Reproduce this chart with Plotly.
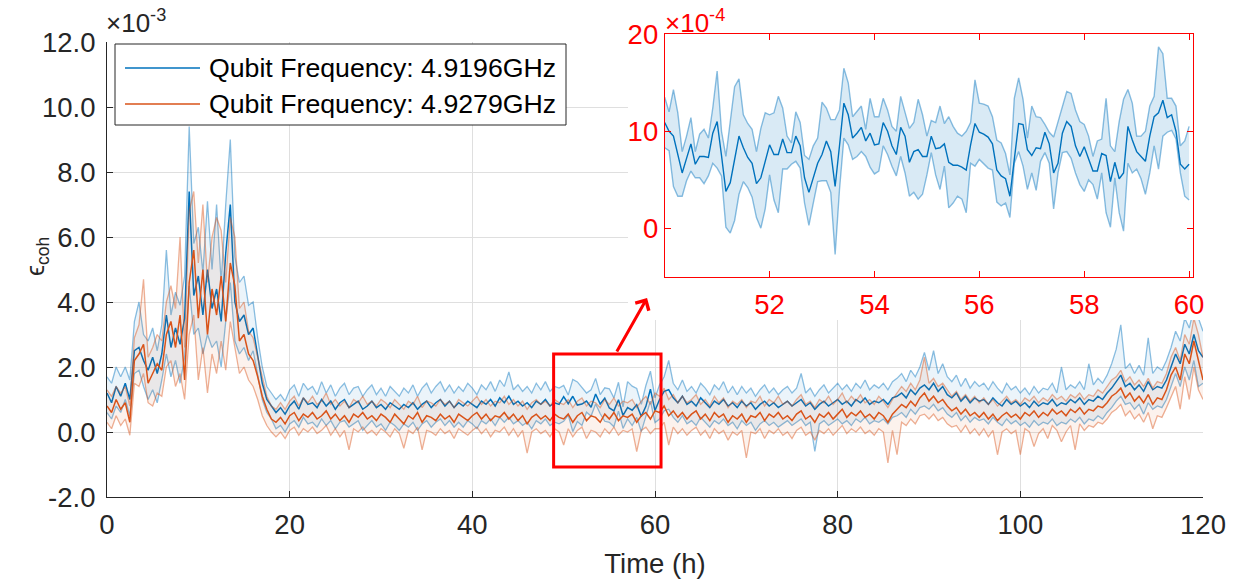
import plotly.graph_objects as go

# ---------------- data (values in units of 1e-3, main axes) ----------------
TIME_STEP_H = 0.5

BLUE_MEAN = [
    1.2, 0.9, 1.4, 1.1, 1.5, 1.0, 2.5, 2.6, 2.2, 1.9,
    2.3, 1.8, 2.4, 3.6, 2.6, 3.2, 2.7, 3.5, 7.4, 4.2,
    4.8, 3.6, 5.0, 3.8, 4.4, 3.4, 5.5, 7.0, 4.0, 3.4,
    3.6, 3.0, 3.2, 2.3, 1.5, 1.0, 0.8,
    0.6, 0.75, 0.55, 0.8, 0.95, 0.7, 1.05, 0.85, 0.9, 0.75,
    1.0, 0.8, 0.95, 0.7, 0.9, 1.0, 0.75, 0.85, 0.95, 0.7,
    0.8, 0.95, 0.75, 0.85, 0.7, 0.9, 0.8, 0.7, 0.85, 0.75,
    0.9, 0.7, 0.85, 0.95, 0.75, 0.9, 1.0, 0.8, 0.95, 0.75,
    0.9, 0.8, 0.95, 0.85, 0.75, 0.95, 0.85, 1.0, 0.8, 1.05,
    0.9, 1.1, 0.85, 0.95, 0.8, 0.9, 0.75, 0.95, 0.85, 1.0,
    0.8, 0.9, 0.85,
    1.09, 0.87, 1.10, 0.83, 0.86, 0.95, 0.76, 1.17, 0.86, 1.04,
    0.74, 0.65, 0.99, 0.51, 0.75, 0.67, 0.84, 0.48, 0.79, 1.32, 0.66,
    1.0, 1.25, 1.3, 1.05, 0.9, 1.1, 0.85, 0.95, 0.8, 1.05,
    0.9, 0.75, 0.95, 0.85, 1.0, 0.8, 0.9, 0.75, 0.95, 0.8,
    0.9, 0.7, 0.85, 0.95, 0.8, 0.9, 0.75, 0.85, 0.95, 0.8,
    0.9, 1.0, 0.8, 0.9, 0.7, 0.85, 0.95, 0.8, 0.9, 1.0,
    0.85, 0.95, 0.8, 1.0, 0.9, 1.05, 0.85, 0.95, 0.9, 1.0,
    0.85, 1.05, 1.1, 1.2, 1.05, 1.3, 1.15, 1.35, 1.45, 1.3,
    1.5, 1.25, 1.4, 1.15, 1.05, 1.2, 0.95, 1.1, 0.9, 1.05,
    0.95, 1.0, 0.85, 1.05, 0.9, 0.8, 1.0, 0.85, 0.95, 0.8,
    0.9, 0.75, 0.95, 0.8, 0.9, 0.85, 1.0, 0.8, 0.9, 0.85,
    1.0, 0.9, 1.05, 0.85, 1.0, 0.95, 1.1, 1.0, 1.2, 1.35,
    1.55, 1.75, 1.4, 1.5, 1.3, 1.45, 1.25, 1.55, 1.3, 1.4,
    1.35, 1.6, 2.0, 2.4, 2.1, 2.7, 2.4, 3.0, 2.5, 2.3,
]
BLUE_UPPER = [
    1.7, 1.5, 2.0, 1.7, 2.0, 1.6, 3.4, 4.0, 3.0, 2.8,
    3.2, 2.5, 3.3, 5.6, 3.6, 4.3, 3.9, 4.8, 9.4, 5.8,
    6.3, 4.9, 7.1, 5.0, 7.0, 4.6, 7.0, 9.0, 5.4, 4.6,
    4.8, 3.9, 4.0, 2.9, 2.0, 1.4, 1.2,
    1.0, 1.15, 0.95, 1.3, 1.45, 1.1, 1.5, 1.3, 1.4, 1.15,
    1.55, 1.2, 1.45, 1.1, 1.35, 1.5, 1.15, 1.35, 1.4, 1.1,
    1.3, 1.45, 1.15, 1.35, 1.1, 1.4, 1.25, 1.1, 1.35, 1.2,
    1.45, 1.1, 1.35, 1.5, 1.2, 1.4, 1.55, 1.25, 1.45, 1.2,
    1.4, 1.25, 1.5, 1.35, 1.15, 1.45, 1.3, 1.55, 1.25, 1.6,
    1.4, 1.85, 1.3, 1.45, 1.25, 1.4, 1.2, 1.5, 1.3, 1.55,
    1.25, 1.4, 1.35,
    1.43, 1.14, 1.62, 1.54, 1.36, 1.2, 1.3, 1.65, 1.15, 1.36,
    1.33, 1.05, 1.53, 0.77, 1.55, 1.41, 1.34, 0.85, 1.43, 1.87, 1.05,
    1.45, 1.7, 2.2, 1.5, 1.3, 1.6, 1.25, 1.4, 1.2, 1.5,
    1.35, 1.15, 1.45, 1.3, 1.55, 1.2, 1.4, 1.15, 1.4, 1.2,
    1.35, 1.1, 1.3, 1.45, 1.2, 1.35, 1.15, 1.3, 1.4, 1.2,
    1.35, 1.8, 1.2, 1.35, 1.1, 1.3, 1.45, 1.2, 1.35, 1.5,
    1.3, 1.45, 1.25, 1.5, 1.35, 1.6, 1.3, 1.45, 1.35, 1.5,
    1.3, 1.55, 1.65, 1.8, 1.55, 1.9, 1.7, 2.0, 2.45, 1.9,
    2.5, 1.8, 2.1, 1.7, 1.55, 1.75, 1.4, 1.65, 1.35, 1.55,
    1.4, 1.5, 1.3, 1.55, 1.35, 1.2, 1.5, 1.3, 1.4, 1.2,
    1.35, 1.15, 1.4, 1.2, 1.35, 1.3, 1.5, 1.2, 2.0, 1.3,
    1.45, 1.35, 1.55, 1.3, 2.1, 1.45, 1.65, 1.5, 1.75, 2.1,
    2.55, 3.3, 1.95, 2.1, 1.8, 2.05, 1.75, 2.9, 1.8, 2.0,
    1.9, 2.2, 2.6, 3.1, 2.8, 3.5, 3.2, 3.8, 3.5, 3.1,
]
BLUE_LOWER = [
    0.6, 0.4, 0.8, 0.6, 1.0, 0.5, 1.8, 1.9, 1.4, 1.0,
    1.3, 0.9, 1.6, 2.4, 1.7, 2.2, 1.5, 2.3, 4.5, 3.0,
    3.2, 2.4, 3.0, 2.6, 2.8, 2.0, 3.4, 4.6, 2.8, 2.4,
    2.6, 2.2, 2.5, 1.7, 1.0, 0.6, 0.4,
    0.1, 0.2, 0.0, 0.25, 0.35, 0.15, 0.45, 0.25, 0.3, 0.15,
    0.4, 0.2, 0.35, 0.1, 0.3, 0.35, 0.15, 0.25, 0.35, 0.05,
    0.2, 0.35, 0.15, 0.25, 0.05, 0.3, 0.2, 0.05, 0.25, 0.15,
    0.3, 0.05, 0.25, 0.35, 0.15, 0.3, 0.4, 0.2, 0.35, 0.15,
    0.3, 0.15, 0.35, 0.25, 0.1, 0.35, 0.25, 0.4, 0.2, 0.45,
    0.3, 0.45, 0.25, 0.35, 0.2, 0.3, 0.1, 0.35, 0.25, 0.4,
    0.2, 0.3, 0.25,
    0.33, 0.52, 0.01, 0.32, 0.2, 0.61, 0.49, 0.86, 0.56, 0.33,
    0.3, 0.16, 0.64, 0.11, 0.4, 0.2, 0.45, 0.01, 0.51, 0.95, 0.29,
    0.4, 0.65, 0.7, 0.45, 0.3, 0.5, 0.25, 0.35, 0.2, 0.45,
    0.3, 0.15, 0.35, 0.25, 0.4, 0.2, 0.3, 0.1, 0.35, 0.2,
    0.3, 0.05, 0.25, 0.35, 0.2, 0.3, 0.15, 0.25, 0.35, 0.2,
    0.3, 0.4, 0.2, 0.3, -0.6, 0.25, 0.35, 0.2, 0.3, 0.4,
    0.25, 0.35, 0.2, 0.4, 0.3, 0.45, 0.25, 0.35, 0.3, 0.4,
    0.25, 0.45, 0.5, 0.6, 0.45, 0.7, 0.55, 0.75, 0.8, 0.7,
    0.85, 0.65, 0.75, 0.55, 0.45, 0.6, 0.35, 0.5, 0.3, 0.45,
    0.35, 0.4, 0.25, 0.45, 0.3, 0.2, 0.4, 0.25, 0.35, 0.2,
    0.3, 0.15, 0.35, 0.2, 0.3, 0.25, 0.4, 0.2, 0.3, 0.25,
    0.4, 0.3, 0.45, 0.25, 0.4, 0.35, 0.5, 0.4, 0.6, 0.75,
    0.95, 1.1, 0.85, 0.9, 0.7, 0.85, 0.55, 0.9, 0.7, 0.8,
    0.75, 1.0, 1.4, 1.8, 1.4, 2.0, 1.6, 2.2, 1.4, 1.5,
]

ORANGE_MEAN = [
    0.8, 0.6, 1.0, 0.7, 0.9, 0.3, 2.2, 2.4, 2.7, 1.5,
    1.8, 2.1, 1.9, 3.0, 3.4, 2.6, 3.6, 1.6, 4.6, 5.6,
    3.5, 5.0, 3.0, 4.4, 3.6, 4.8, 3.4, 5.2, 4.5, 2.8,
    3.0, 2.4, 2.2, 1.7, 1.1, 0.7, 0.4,
    0.3, 0.45, 0.25, 0.5, 0.6, 0.35, 0.55, 0.45, 0.6, 0.4,
    0.5, 0.65, 0.4, 0.55, 0.35, 0.5, 0.3, 0.55, 0.45, 0.6,
    0.4, 0.5, 0.35, 0.55, 0.45, 0.3, 0.55, 0.4, 0.25, 0.5,
    0.4, 0.6, 0.3, 0.5, 0.45, 0.35, 0.55, 0.4, 0.5, 0.3,
    0.55, 0.45, 0.35, 0.5, 0.6, 0.4, 0.55, 0.35, 0.5, 0.45,
    0.6, 0.4, 0.55, 0.35, 0.5, 0.25, 0.45, 0.55, 0.4, 0.5,
    0.35, 0.55, 0.45,
    0.4, 0.55, 0.3, 0.5, 0.6, 0.35, 0.5, 0.45, 0.3, 0.55,
    0.4, 0.6, 0.35, 0.5, 0.45, 0.55, 0.3, 0.5, 0.6, 0.4, 0.65,
    0.6, 0.8, 0.5, 0.65, 0.45, 0.6, 0.4, 0.55, 0.65, 0.4,
    0.55, 0.35, 0.6, 0.45, 0.55, 0.3, 0.5, 0.4, 0.55, 0.3,
    0.5, 0.45, 0.6, 0.35, 0.55, 0.45, 0.6, 0.4, 0.5, 0.35,
    0.55, 0.65, 0.4, 0.5, 0.3, 0.55, 0.45, 0.6, 0.4, 0.55,
    0.7, 0.45, 0.6, 0.5, 0.65, 0.45, 0.55, 0.4, 0.6, 0.5,
    0.3, 0.55, 0.7, 0.85, 0.75, 0.95, 0.8, 1.05, 1.2, 0.95,
    1.1, 0.9, 1.0, 0.8, 0.65, 0.75, 0.55, 0.7, 0.5, 0.6,
    0.45, 0.6, 0.4, 0.55, 0.35, 0.5, 0.6, 0.45, 0.55, 0.4,
    0.6, 0.5, 0.65, 0.45, 0.6, 0.5, 0.7, 0.55, 0.65, 0.5,
    0.7, 0.6, 0.75, 0.55, 0.7, 0.65, 0.8, 0.75, 0.9, 1.1,
    1.2, 1.35, 1.05, 1.2, 0.95, 1.1, 0.9, 1.15, 0.85, 1.05,
    1.0, 1.3, 1.75, 2.0, 1.6, 2.4, 2.1, 2.8, 2.2, 1.6,
]
ORANGE_UPPER = [
    1.3, 1.1, 1.4, 1.2, 1.4, 0.8, 2.9, 3.3, 4.7, 2.3,
    2.6, 3.0, 2.8, 4.0, 4.5, 3.8, 6.0, 2.6, 6.8, 7.4,
    5.2, 7.0, 4.6, 6.0, 6.6, 6.2, 4.6, 6.6, 6.0, 3.8,
    4.0, 3.1, 2.9, 2.3, 1.6, 1.1, 0.8,
    0.7, 0.9, 0.7, 0.95, 1.1, 0.8, 1.05, 0.9, 1.1, 0.85,
    0.95, 1.2, 0.85, 1.0, 0.8, 0.95, 0.75, 1.0, 0.9, 1.1,
    0.85, 0.95, 0.8, 1.0, 0.9, 0.75, 1.0, 0.85, 0.7, 0.95,
    0.85, 1.1, 0.75, 0.95, 0.9, 0.8, 1.0, 0.85, 0.95, 0.75,
    1.0, 0.9, 0.8, 0.95, 1.1, 0.85, 1.0, 0.8, 0.95, 0.9,
    1.1, 0.85, 1.0, 0.8, 0.95, 0.7, 0.9, 1.0, 0.85, 0.95,
    0.8, 1.0, 0.9,
    0.85, 1.0, 0.75, 0.95, 1.05, 0.8, 0.95, 0.9, 0.75, 1.0,
    0.85, 1.05, 0.8, 0.95, 0.9, 1.0, 0.75, 0.95, 1.1, 0.85, 1.2,
    1.1, 1.35, 1.0, 1.15, 0.9, 1.1, 0.9, 1.0, 1.15, 0.85,
    1.0, 0.8, 1.1, 0.9, 1.05, 0.75, 0.95, 0.85, 1.0, 0.75,
    0.95, 0.9, 1.1, 0.8, 1.0, 0.9, 1.1, 0.85, 0.95, 0.8,
    1.0, 1.15, 0.85, 0.95, 0.75, 1.0, 0.9, 1.1, 0.85, 1.0,
    1.2, 0.9, 1.1, 0.95, 1.15, 0.9, 1.0, 0.85, 1.1, 0.95,
    0.75, 1.0, 1.2, 1.4, 1.25, 1.5, 1.3, 1.6, 2.3, 1.5,
    1.65, 1.4, 1.5, 1.3, 1.1, 1.25, 1.0, 1.15, 0.95, 1.1,
    0.9, 1.05, 0.85, 1.0, 0.8, 0.95, 1.1, 0.9, 1.0, 0.85,
    1.05, 0.95, 1.1, 0.9, 1.05, 0.95, 1.15, 1.0, 1.1, 0.95,
    1.15, 1.05, 1.2, 1.0, 1.15, 1.1, 1.3, 1.2, 1.4, 1.6,
    1.7, 1.9, 1.55, 1.7, 1.45, 1.6, 1.4, 1.65, 1.35, 1.55,
    1.5, 1.8, 2.3, 2.6, 2.2, 3.0, 2.7, 3.5, 3.0, 2.3,
]
ORANGE_LOWER = [
    0.3, 0.1, 0.5, 0.2, 0.4, -0.1, 1.5, 1.4, 1.8, 0.9,
    0.8, 1.2, 1.1, 2.0, 2.2, 1.4, 1.8, 1.0, 3.0, 3.6,
    1.6, 2.6, 1.2, 2.4, 1.8, 2.8, 1.9, 3.4, 2.6, 1.8,
    2.0, 1.6, 1.4, 1.0, 0.5, 0.2, 0.0,
    -0.15, 0.0, -0.2, 0.05, 0.15, -0.1, 0.1, 0.0, 0.15, -0.05,
    0.05, 0.2, -0.1, 0.1, -0.15, 0.05, -0.55, 0.1, 0.0, 0.15,
    -0.05, 0.05, -0.1, 0.1, 0.0, -0.15, 0.1, -0.05, -0.5, 0.05,
    -0.05, 0.15, -0.55, 0.05, 0.0, -0.1, 0.1, -0.05, 0.05, -0.2,
    0.1, 0.0, -0.1, 0.05, 0.15, -0.05, 0.1, -0.15, 0.05, 0.0,
    0.15, -0.1, 0.1, -0.15, 0.05, -0.65, 0.0, 0.1, -0.05, 0.05,
    -0.15, 0.1, 0.0,
    -0.4, 0.1, -0.15, 0.05, 0.15, -0.2, 0.05, 0.0, -0.15, 0.1,
    -0.05, 0.15, -0.1, 0.05, 0.0, 0.1, -0.6, 0.05, 0.15, -0.05, 0.1,
    0.1, 0.3, -0.4, 0.15, -0.05, 0.1, -0.1, 0.05, 0.15, -0.1,
    0.05, -0.2, 0.1, -0.05, 0.05, -0.25, 0.0, -0.1, 0.05, -0.8,
    0.0, -0.05, 0.1, -0.2, 0.05, -0.05, 0.1, -0.1, 0.0, -0.2,
    0.05, 0.15, -0.1, 0.0, -0.25, 0.05, -0.05, 0.1, -0.1, 0.05,
    0.2, -0.05, 0.1, 0.0, 0.15, -0.05, 0.05, -0.1, 0.1, 0.0,
    -0.95, 0.05, -0.7, 0.3, 0.2, 0.4, 0.25, 0.5, 0.55, 0.4,
    0.55, 0.35, 0.45, 0.25, 0.15, 0.2, 0.0, 0.2, -0.05, 0.1,
    -0.1, 0.1, -0.15, 0.05, -0.7, 0.0, 0.1, -0.05, 0.05, -0.7,
    0.1, 0.0, -0.45, -0.05, 0.1, -0.2, 0.2, 0.05, -0.3, 0.0,
    0.2, -0.55, 0.25, 0.05, 0.2, 0.15, 0.3, 0.25, 0.4, 0.6,
    0.7, 0.85, 0.5, 0.65, 0.4, 0.55, 0.3, 0.6, 0.1, 0.5,
    0.45, 0.75, 1.1, 1.4, 0.7, 1.7, 1.0, 2.0, 1.3, 1.0,
]

# ---------------- inset data (values in units of 1e-4) ----------------
INSET_T0_H = 50.0
INSET_STEP_H = 1.0 / 12.0
INSET_MEAN = [
    10.9, 10.0, 9.5, 7.6, 5.7, 7.2, 8.7, 6.6, 7.4, 7.4,
    7.3, 9.8, 11.0, 7.5, 3.8, 4.7, 7.0, 9.5, 8.3, 7.3,
    6.7, 4.6, 5.2, 6.9, 8.6, 7.6, 7.6, 9.2, 7.8, 7.8,
    9.5, 8.5, 5.2, 3.7, 5.2, 6.7, 7.6, 9.0, 7.9, 4.3,
    8.5, 12.9, 11.7, 9.3, 9.8, 10.4, 9.0, 9.8, 8.6, 8.7,
    10.9, 10.0, 8.5, 7.6,
    10.4, 9.5, 6.8, 7.9, 8.1, 7.4, 7.4, 9.5, 8.2, 8.3,
    8.7, 6.8, 6.5, 6.5, 6.3, 6.0, 8.6, 10.8, 9.9, 9.7,
    9.4, 8.7, 6.0, 5.4, 5.1, 3.3, 7.1, 10.8, 10.7, 8.1,
    7.5, 8.3, 8.2, 9.9, 8.7, 5.7, 6.7, 9.8, 11.0, 10.5,
    8.5, 7.4, 8.4, 7.1, 5.9, 5.9, 7.7, 7.5, 4.8, 6.8,
    5.1, 5.7, 10.5, 9.1, 7.9, 7.4, 6.9, 9.5, 11.5, 11.9,
    13.2, 11.4, 11.7, 10.0, 6.6, 6.1, 6.6,
]
INSET_UPPER = [
    13.5, 12.0, 14.3, 11.9, 7.9, 9.5, 11.4, 7.9, 9.7, 10.2,
    9.3, 12.4, 16.2, 10.0, 7.4, 10.9, 14.6, 15.4, 11.7, 10.8,
    10.2, 7.9, 10.3, 11.9, 11.7, 11.9, 13.6, 12.4, 9.5, 8.8,
    12.0, 10.9, 7.5, 7.1, 8.5, 9.3, 13.0, 12.4, 11.2, 11.2,
    12.2, 16.5, 15.0, 11.5, 12.1, 12.6, 10.2, 13.4, 11.5, 11.5,
    13.4, 12.2, 10.5, 10.0,
    13.6, 11.9, 10.3, 10.9, 13.3, 11.7, 9.5, 11.1, 10.9, 12.6,
    10.8, 11.5, 10.5, 9.8, 9.5, 10.0, 10.9, 15.3, 12.9, 12.8,
    12.6, 11.5, 9.1, 8.8, 7.7, 5.5, 13.4, 15.5, 13.3, 9.3,
    12.6, 11.5, 11.4, 10.7, 9.9, 9.4, 10.9, 12.6, 14.1, 13.9,
    12.2, 11.0, 10.7, 9.5, 7.4, 9.0, 9.2, 13.4, 8.5, 7.9,
    11.0, 13.3, 14.3, 12.9, 9.5, 9.5, 10.0, 12.6, 13.6, 18.7,
    18.0, 13.4, 13.4, 12.6, 8.5, 9.0, 10.5,
]
INSET_LOWER = [
    8.3, 8.0, 4.3, 3.3, 3.3, 4.9, 5.9, 5.2, 5.2, 4.6,
    5.4, 6.7, 6.2, 5.4, 0.1, -0.5, 0.8, 3.5, 4.8, 4.2,
    3.2, 1.1, 0.0, 2.0, 5.5, 2.9, 1.6, 6.1, 6.1, 6.6,
    6.9, 6.2, 2.6, 0.3, 2.6, 4.8, 4.9, 4.9, 3.7, -2.7,
    4.0, 9.3, 8.6, 7.1, 7.4, 7.9, 7.4, 6.3, 5.6, 5.9,
    8.5, 7.6, 6.4, 5.4,
    7.4, 5.7, 3.3, 3.7, 3.0, 3.5, 5.5, 7.8, 5.5, 4.0,
    6.4, 2.1, 2.6, 3.3, 3.0, 1.6, 6.7, 6.4, 7.1, 6.6,
    6.2, 6.0, 2.7, 2.3, 2.6, 1.1, 6.7, 7.9, 6.4, 4.0,
    5.7, 3.9, 6.9, 7.8, 6.7, 2.0, 5.7, 7.8, 7.9, 7.2,
    5.7, 4.5, 3.8, 5.0, 4.5, 3.0, 5.7, 1.6, 0.1, 5.2,
    1.6, -0.3, 6.7, 5.7, 6.1, 5.1, 3.5, 5.7, 8.5, 6.1,
    9.5, 9.9, 10.1, 9.2, 5.7, 3.3, 2.9,
]

SERIES_NAMES = ["Qubit Frequency: 4.9196GHz", "Qubit Frequency: 4.9279GHz"]
MAIN_X_TICKS = [0, 20, 40, 60, 80, 100, 120]
MAIN_Y_TICKS = [-2, 0, 2, 4, 6, 8, 10, 12]
MAIN_Y_TICKTEXT = ["-2.0", "0.0", "2.0", "4.0", "6.0", "8.0", "10.0", "12.0"]
INSET_X_TICKS = [52, 54, 56, 58, 60]
INSET_Y_TICKS = [0, 10, 20]
ZOOM_BOX_T = (48.9, 60.66)
ZOOM_BOX_Y = (-1.08, 2.4)

time_h = [i * TIME_STEP_H for i in range(len(BLUE_MEAN))]
inset_t = [INSET_T0_H + i * INSET_STEP_H for i in range(len(INSET_MEAN))]

# ---------------- styling / geometry ----------------
BLUE = "#0072BD"
ORANGE = "#D95319"
BLUE_EDGE = "rgba(0,114,189,0.45)"
BLUE_FILL = "rgba(0,114,189,0.08)"
ORANGE_EDGE = "rgba(217,83,25,0.45)"
ORANGE_FILL = "rgba(217,83,25,0.08)"
RED = "#FF0000"
AXC = "#262626"
FONT = "Liberation Sans, Arial, Helvetica, sans-serif"
FS = 27.5
FS_LEG = 26.7

W, H = 1240, 580
ML, MR, MT, MB = 107, 30, 34, 83
PW, PH = W - ML - MR, H - MT - MB


def px(xp):
    return (xp - ML) / PW


def py(yp):
    return (H - MB - yp) / PH


fig = go.Figure()


def band(t, lo, hi, mean, edge, fill, color, xa, ya, wmean, wedge):
    fig.add_trace(go.Scatter(x=t, y=lo, mode="lines", line=dict(color=edge, width=wedge),
                             xaxis=xa, yaxis=ya, showlegend=False, hoverinfo="skip"))
    fig.add_trace(go.Scatter(x=t, y=hi, mode="lines", line=dict(color=edge, width=wedge),
                             fill="tonexty", fillcolor=fill,
                             xaxis=xa, yaxis=ya, showlegend=False, hoverinfo="skip"))
    fig.add_trace(go.Scatter(x=t, y=mean, mode="lines", line=dict(color=color, width=wmean),
                             xaxis=xa, yaxis=ya, showlegend=False))


band(time_h, BLUE_LOWER, BLUE_UPPER, BLUE_MEAN, BLUE_EDGE, BLUE_FILL, BLUE, "x", "y", 1.5, 1.3)
band(time_h, ORANGE_LOWER, ORANGE_UPPER, ORANGE_MEAN, ORANGE_EDGE, ORANGE_FILL, ORANGE, "x", "y", 1.5, 1.3)

# blank white panel behind the inset (hides main grid & data there)
fig.add_trace(go.Scatter(x=[0.5], y=[0.5], mode="markers", marker=dict(opacity=0),
                         xaxis="x2", yaxis="y2", showlegend=False, hoverinfo="skip"))

band(inset_t, INSET_LOWER, INSET_UPPER, INSET_MEAN, "rgba(0,114,189,0.45)",
     "rgba(0,114,189,0.15)", BLUE, "x3", "y3", 1.4, 1.4)

axis_common = dict(ticks="inside", ticklen=6, showline=True, zeroline=False, automargin=False,
                   tickfont=dict(family=FONT, size=FS))

fig.update_layout(
    width=W, height=H,
    margin=dict(l=ML, r=MR, t=MT, b=MB, autoexpand=False),
    paper_bgcolor="white", plot_bgcolor="white",
    font=dict(family=FONT, size=FS, color=AXC),
    showlegend=False,
    xaxis=dict(domain=[0, 1096 / PW], range=[0, 120], tickvals=MAIN_X_TICKS,
               tickcolor=AXC, linecolor=AXC, linewidth=1, showgrid=True, gridcolor="#DFDFDF",
               ticklabelstandoff=3,
               title=dict(text="Time (h)", font=dict(size=FS, color=AXC), standoff=14),
               anchor="y", **axis_common),
    yaxis=dict(domain=[0, 455 / PH], range=[-2, 12], tickvals=MAIN_Y_TICKS, ticktext=MAIN_Y_TICKTEXT,
               tickcolor=AXC, linecolor=AXC, linewidth=1, showgrid=True, gridcolor="#DFDFDF",
               ticklabelstandoff=5, anchor="x", **axis_common),
    xaxis2=dict(domain=[px(628), 1.0], range=[0, 1], visible=False, anchor="y2", fixedrange=True,
                automargin=False),
    yaxis2=dict(domain=[py(320), 1.0], range=[0, 1], visible=False, anchor="x2", fixedrange=True,
                automargin=False),
    xaxis3=dict(domain=[px(664.7), px(1193.3)], range=[50, 60.08], tickvals=INSET_X_TICKS,
                tickcolor=RED, linecolor=RED, linewidth=1, mirror="ticks", showgrid=False,
                anchor="y3", ticks="inside", ticklen=6, showline=True, zeroline=False,
                automargin=False, ticklabelstandoff=3,
                tickfont=dict(family=FONT, size=FS, color=RED)),
    yaxis3=dict(domain=[py(276.7), min(1.0, py(34.3))], range=[-5, 20], tickvals=INSET_Y_TICKS,
                tickcolor=RED, linecolor=RED, linewidth=1, mirror="ticks", showgrid=False,
                anchor="x3", ticks="inside", ticklen=6, showline=True, zeroline=False,
                automargin=False,
                tickfont=dict(family=FONT, size=FS, color=RED)),
)

shapes = [
    dict(type="rect", xref="x", yref="y", x0=ZOOM_BOX_T[0], x1=ZOOM_BOX_T[1],
         y0=ZOOM_BOX_Y[0], y1=ZOOM_BOX_Y[1], line=dict(color=RED, width=3), layer="above"),
    # legend box
    dict(type="rect", xref="paper", yref="paper", x0=px(115), x1=px(566), y0=py(125), y1=py(44),
         line=dict(color=AXC, width=1), fillcolor="white", layer="above"),
    dict(type="line", xref="paper", yref="paper", x0=px(125), x1=px(200), y0=py(68), y1=py(68),
         line=dict(color=BLUE, width=1.6), layer="above"),
    dict(type="line", xref="paper", yref="paper", x0=px(125), x1=px(200), y0=py(104), y1=py(104),
         line=dict(color=ORANGE, width=1.6), layer="above"),
]
fig.update_layout(shapes=shapes)

annotations = [
    dict(text=SERIES_NAMES[0], xref="paper", yref="paper", x=px(207), y=py(68),
         xanchor="left", yanchor="middle", showarrow=False, font=dict(size=FS_LEG, color="black")),
    dict(text=SERIES_NAMES[1], xref="paper", yref="paper", x=px(207), y=py(104),
         xanchor="left", yanchor="middle", showarrow=False, font=dict(size=FS_LEG, color="black")),
    dict(text="ϵ<sub>coh</sub>", xref="paper", yref="paper", x=px(37), y=py(256), textangle=-90,
         xanchor="center", yanchor="middle", showarrow=False, font=dict(size=25, color=AXC)),
    dict(text="×10<sup>-3</sup>", xref="paper", yref="paper", x=px(104), y=py(3),
         xanchor="left", yanchor="top", showarrow=False, font=dict(size=26, color=AXC)),
    dict(text="×10<sup>-4</sup>", xref="paper", yref="paper", x=px(663), y=py(3),
         xanchor="left", yanchor="top", showarrow=False, font=dict(size=26, color=RED)),
    dict(text="", x=59.13, y=4.12, xref="x", yref="y", ax=55.73, ay=2.43, axref="x", ayref="y",
         showarrow=True, arrowhead=4, arrowsize=1.0, arrowwidth=3, arrowcolor=RED),
]
fig.update_layout(annotations=annotations)

fig.write_html("out.html", config={"displayModeBar": False, "staticPlot": True},
               post_script="document.body.style.margin='0px';")
